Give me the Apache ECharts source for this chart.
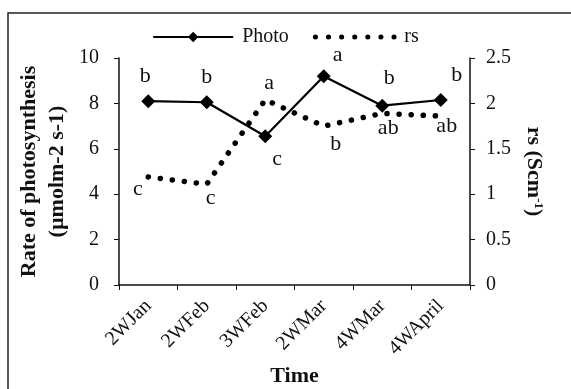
<!DOCTYPE html>
<html><head><meta charset="utf-8">
<script src="https://cdn.jsdelivr.net/npm/echarts@6/dist/echarts.min.js"></script>
<style>html,body{margin:0;padding:0;background:#fff}#c{width:571px;height:389px}</style>
</head><body><div id="c"></div>
<script>
var categories = ['2WJan','2WFeb','3WFeb','2WMar','4WMar','4WApril'];
var photo = [8.1, 8.05, 6.55, 9.2, 7.9, 8.15];
var rs = [1.19, 1.11, 2.04, 1.75, 1.89, 1.86];
var photoSig = ['b','b','c','a','b','b'];
var rsSig = ['c','c','a','b','ab','ab'];
var leftTicks = [0,2,4,6,8,10];
var rightTicks = [0,0.5,1,1.5,2,2.5];

var FONT = 'Liberation Serif';
var photoLabelPos = [
  {position:'top', offset:[-3,-2]},
  {position:'top', offset:[0,-2]},
  {position:'bottom', offset:[12,0]},
  {position:'top', offset:[14,2]},
  {position:'top', offset:[7,-4]},
  {position:'top', offset:[16,-2]}
];
var rsLabelPos = [
  {position:'left', offset:[0,12]},
  {position:'bottom', offset:[4,-2]},
  {position:'top', offset:[4,0]},
  {position:'bottom', offset:[12,2]},
  {position:'bottom', offset:[6,-2]},
  {position:'bottom', offset:[6,-6]}
];
function sigData(vals, sig, pos){
  return vals.map(function(v,i){
    return {value:v, label:Object.assign({show:true, formatter:sig[i], fontFamily:FONT, fontSize:22, color:'#111'}, pos[i])};
  });
}
var chart = echarts.init(document.getElementById('c'));
chart.setOption({
  animation:false,
  backgroundColor:'#fff',
  textStyle:{fontFamily:FONT, color:'#111'},
  graphic:[{type:'rect', shape:{x:8,y:13,width:620,height:420}, style:{fill:'none', stroke:'#222', lineWidth:1.5}, silent:true}],
  legend:{
    top:22, left:'center',
    itemWidth:80, itemHeight:13, itemGap:24,
    textStyle:{fontFamily:FONT, fontSize:20, color:'#111', padding:[0,0,0,4]},
    data:[{name:'Photo'},{name:'rs', lineStyle:{width:5, type:[0.1, 13], cap:'round', color:'#000'}}]
  },
  grid:{left:119, right:101, top:58, bottom:104, containLabel:false, outerBoundsMode:'none'},
  xAxis:{
    type:'category', data:categories, boundaryGap:true,
    axisLine:{lineStyle:{color:'#111', width:1.5}},
    axisTick:{show:true, inside:false, length:5, lineStyle:{color:'#111'}},
    axisLabel:{rotate:45, fontFamily:FONT, fontSize:20, color:'#111', margin:18},
    name:'Time', nameLocation:'middle', nameGap:80, nameMoveOverlap:false,
    nameTextStyle:{fontFamily:FONT, fontSize:22, fontWeight:'bold', color:'#111'}
  },
  yAxis:[{
    type:'value', min:leftTicks[0], max:leftTicks[leftTicks.length-1], interval:2,
    position:'left',
    axisLine:{show:true, lineStyle:{color:'#111', width:1.5}},
    axisTick:{show:true, length:5, lineStyle:{color:'#111'}},
    splitLine:{show:false},
    axisLabel:{fontFamily:FONT, fontSize:20, color:'#111', margin:20},
    name:'Rate of photosynthesis\n(µmolm-2 s-1)', nameLocation:'middle', nameRotate:90, nameGap:48, nameMoveOverlap:false,
    nameTextStyle:{fontFamily:FONT, fontSize:22, fontWeight:'bold', color:'#111', lineHeight:28}
  },{
    type:'value', min:rightTicks[0], max:rightTicks[rightTicks.length-1], interval:0.5,
    position:'right',
    axisLine:{show:true, lineStyle:{color:'#111', width:1.5}},
    axisTick:{show:true, length:5, lineStyle:{color:'#111'}},
    splitLine:{show:false},
    axisLabel:{fontFamily:FONT, fontSize:20, color:'#111', margin:16},
    name:'{a|rs (Scm}{s|-1}{a|)}', nameLocation:'middle', nameRotate:-90, nameGap:52, nameMoveOverlap:false,
    nameTextStyle:{fontFamily:FONT, fontSize:22, fontWeight:'bold', color:'#111',
      rich:{a:{fontFamily:FONT, fontSize:22, fontWeight:'bold', color:'#111'},
            s:{fontFamily:FONT, fontSize:13, fontWeight:'bold', color:'#111', verticalAlign:'top', padding:[0,0,10,0]}}}
  }],
  series:[{
    name:'Photo', type:'line', yAxisIndex:0,
    data:sigData(photo, photoSig, photoLabelPos),
    symbol:'diamond', symbolSize:14,
    lineStyle:{color:'#000', width:2.2},
    itemStyle:{color:'#000'}, z:3
  },{
    name:'rs', type:'line', yAxisIndex:1,
    data:sigData(rs, rsSig, rsLabelPos),
    symbol:'circle', symbolSize:1, showSymbol:true,
    lineStyle:{color:'#000', width:5.5, type:[0.1, 12], cap:'round'},
    itemStyle:{color:'rgba(0,0,0,0)'}, z:2
  }]
});
</script></body></html>
